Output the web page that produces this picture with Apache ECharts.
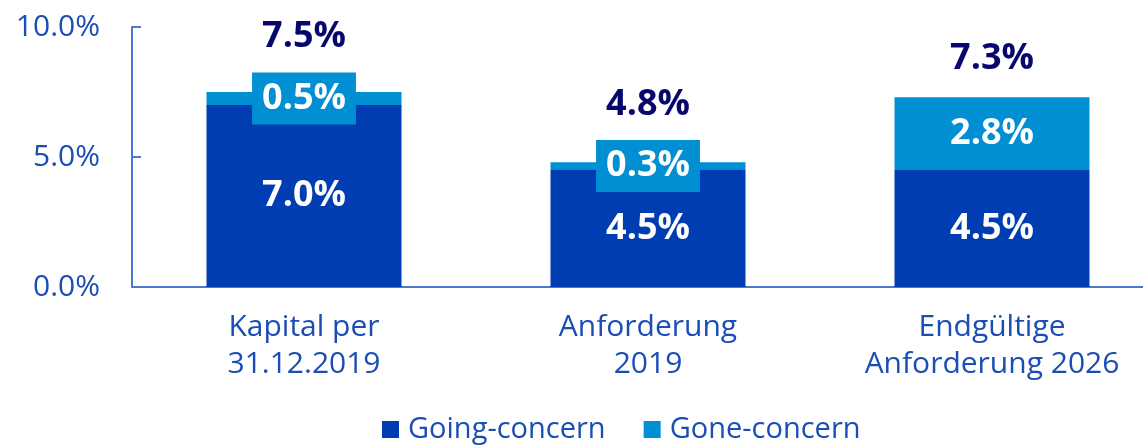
<!DOCTYPE html>
<html>
<head>
<meta charset="utf-8">
<script src="https://cdn.jsdelivr.net/npm/echarts@6/dist/echarts.min.js"></script>
<style>
    html, body { margin: 0; padding: 0; background: #fff; }
    #chart { width: 1143px; height: 447px; }
</style>
</head>
<body>
<div id="chart"></div>

<script>
    var categories = ['Kapital per\n31.12.2019', 'Anforderung\n2019', 'Endgültige\nAnforderung 2026'];
    var goingConcern = [7.0, 4.5, 4.5];
    var goneConcern = [0.5, 0.3, 2.8];
    var totals = [7.5, 4.8, 7.3];

    var myChart = echarts.init(document.getElementById('chart'));

    var font = 'Open Sans';
    var blueText = '#1a4db5';
    var axisColor = '#4d78d0';
    // abstand der summen-labels über dem balken
    var totalGap = [37, 39, 20];

    var option = {
        animation: false,
        textStyle: { fontFamily: font },
        grid: {
            left: 132,
            top: 27,
            width: 1032,
            height: 260,
            outerBoundsMode: 'none'
        },
        legend: {
            data: ['Going-concern', 'Gone-concern'],
            left: 377,
            top: 410,
            icon: 'rect',
            itemWidth: 17,
            itemHeight: 17,
            itemGap: 38,
            textStyle: {
                fontFamily: font,
                fontSize: 29,
                color: blueText,
                padding: [0, 0, 0, 4]
            }
        },
        xAxis: {
            type: 'category',
            data: categories,
            axisLine: { lineStyle: { color: axisColor, width: 2 } },
            axisTick: { show: false },
            axisLabel: {
                margin: 22,
                fontFamily: font,
                fontSize: 30,
                lineHeight: 37,
                color: blueText,
                interval: 0
            }
        },
        yAxis: {
            type: 'value',
            min: 0,
            max: 10,
            interval: 5,
            splitLine: { show: false },
            axisLine: { show: true, lineStyle: { color: axisColor, width: 2 } },
            axisTick: { show: true, inside: true, length: 9, lineStyle: { color: axisColor, width: 2 } },
            axisLabel: {
                margin: 32,
                fontFamily: font,
                fontSize: 30,
                color: blueText,
                formatter: function (v) { return v.toFixed(1) + '%'; }
            }
        },
        series: [
            {
                name: 'Going-concern',
                type: 'bar',
                stack: 'cap',
                barWidth: 195,
                data: goingConcern,
                itemStyle: { color: '#003db2' },
                label: {
                    show: true,
                    position: 'inside',
                    color: '#fff',
                    fontFamily: font,
                    fontWeight: 'bold',
                    fontSize: 36,
                    formatter: function (p) { return p.value.toFixed(1) + '%'; }
                }
            },
            {
                name: 'Gone-concern',
                type: 'bar',
                stack: 'cap',
                barWidth: 195,
                data: goneConcern,
                itemStyle: { color: '#008fd3' },
                label: {
                    show: true,
                    position: 'inside',
                    color: '#fff',
                    fontFamily: font,
                    fontWeight: 'bold',
                    fontSize: 36,
                    backgroundColor: '#008fd3',
                    padding: [8, 10],
                    formatter: function (p) { return p.value.toFixed(1) + '%'; }
                }
            },
            {
                name: 'Total',
                type: 'scatter',
                symbolSize: 0,
                silent: true,
                itemStyle: { opacity: 1 },
                data: totals.map(function (v, i) {
                    return { value: v, label: { distance: totalGap[i] } };
                }),
                label: {
                    show: true,
                    position: 'top',
                    color: '#07076e',
                    opacity: 1,
                    fontFamily: font,
                    fontWeight: 'bold',
                    fontSize: 36,
                    formatter: function (p) { return p.value.toFixed(1) + '%'; }
                }
            }
        ]
    };

    myChart.setOption(option);
    window.onresize = myChart.resize;
</script>
</body>
</html>
